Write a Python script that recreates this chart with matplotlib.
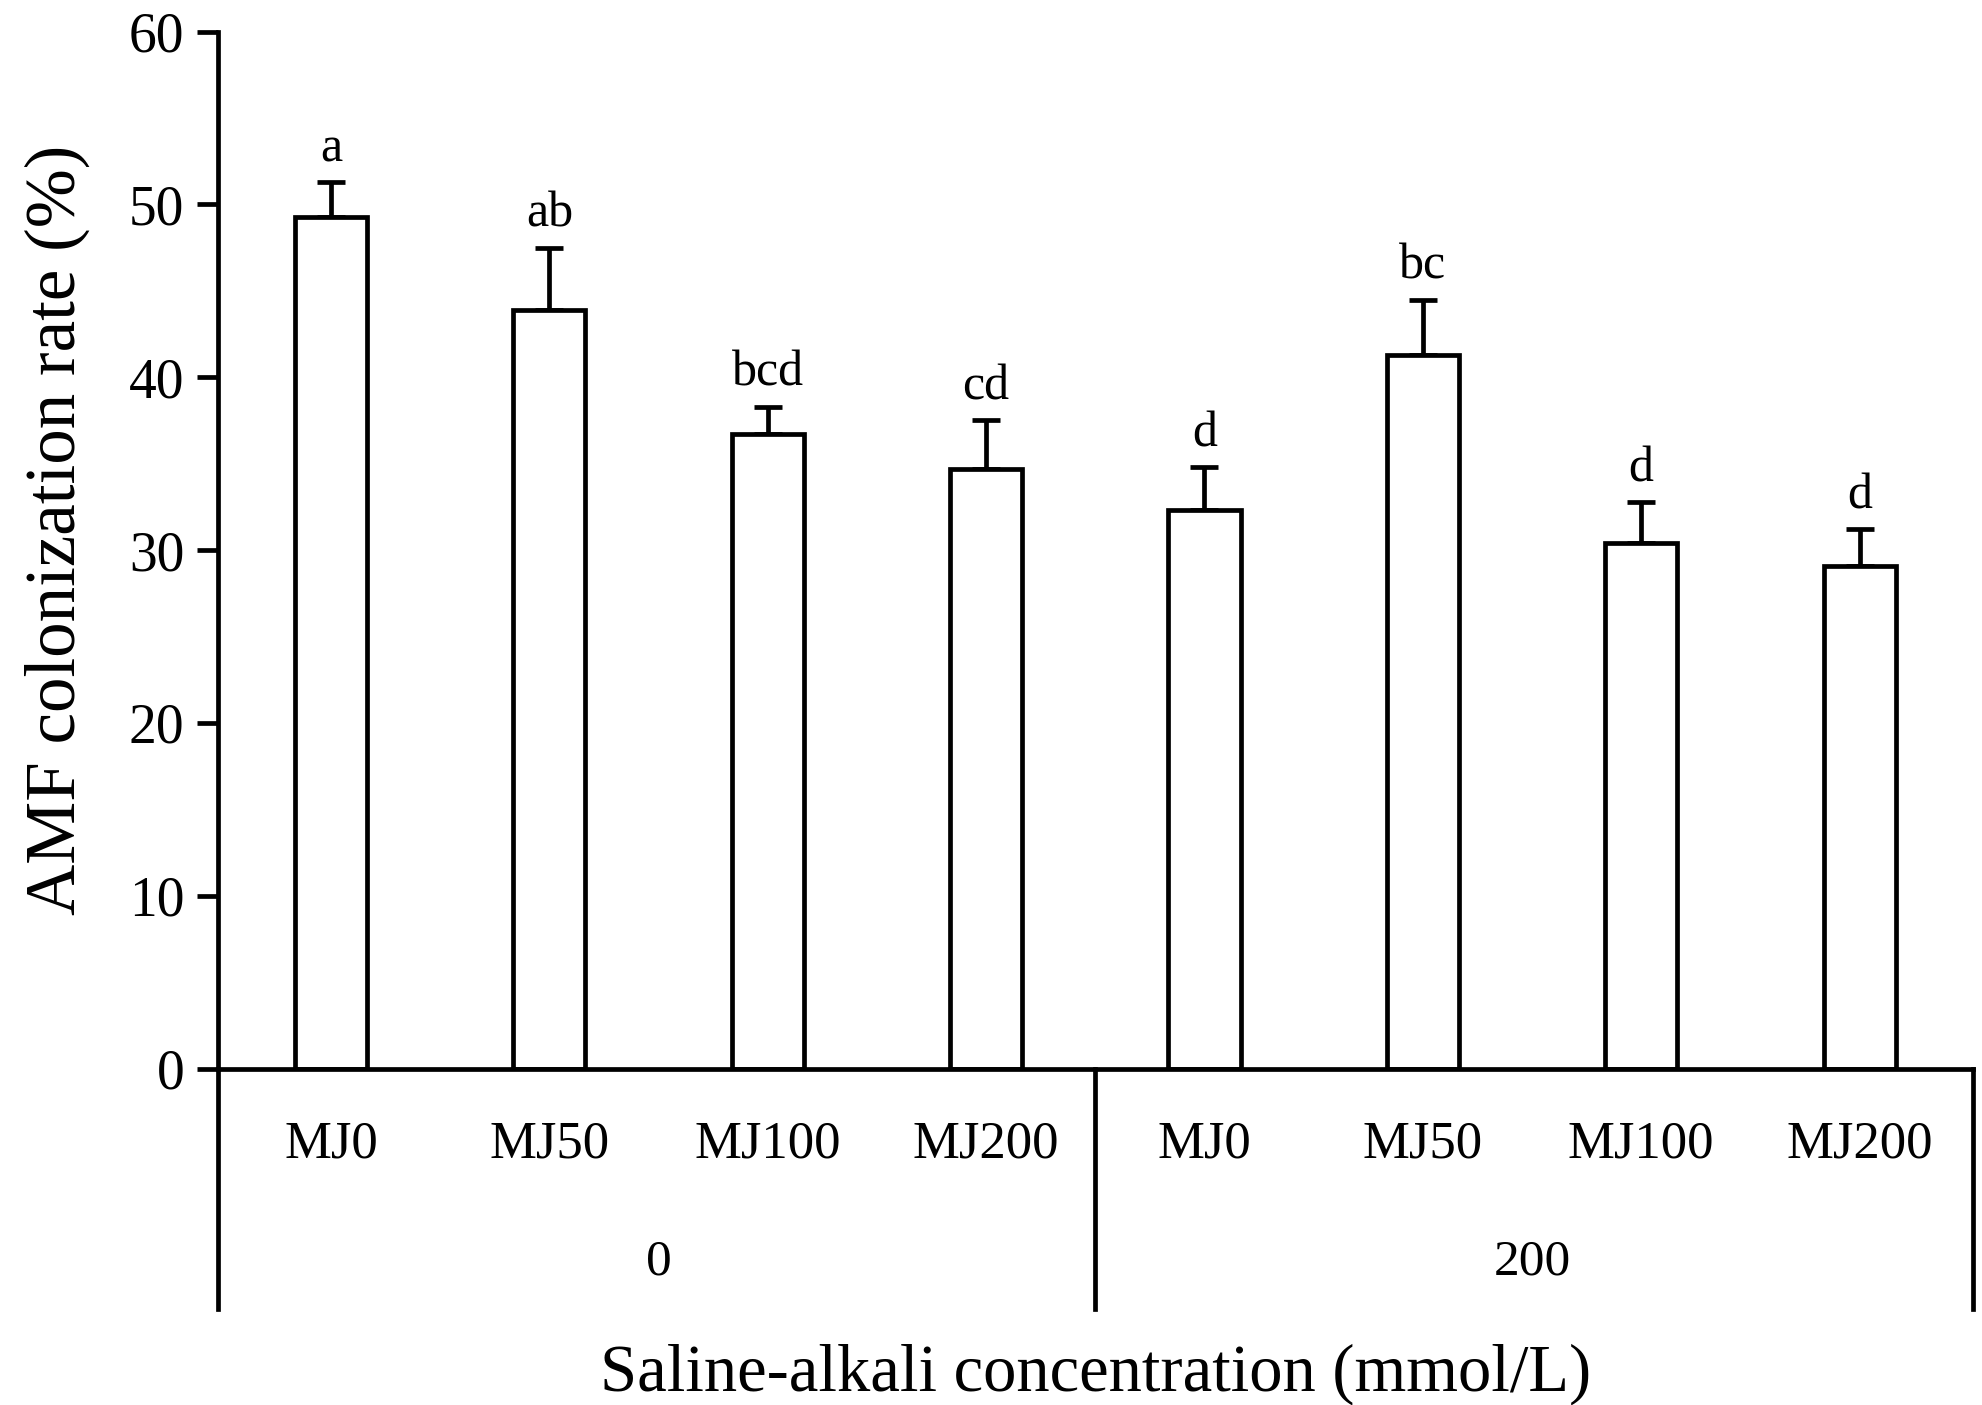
import matplotlib
matplotlib.use("Agg")
import matplotlib.pyplot as plt
import numpy as np

plt.rcParams["font.family"] = ["Liberation Serif", "DejaVu Serif"]

treatments = ["MJ0", "MJ50", "MJ100", "MJ200", "MJ0", "MJ50", "MJ100", "MJ200"]
groups = ["0", "200"]
rate = [49.3, 43.9, 36.7, 34.7, 32.3, 41.3, 30.4, 29.1]
err = [2.0, 3.6, 1.6, 2.8, 2.5, 3.2, 2.4, 2.1]
letters = ["a", "ab", "bcd", "cd", "d", "bc", "d", "d"]

fig = plt.figure(figsize=(19.83, 14.05), dpi=100)
ax = fig.add_axes([0.1097, 0.2394, 0.8853, 0.7381])

x = np.arange(len(rate))
lw = 3.4
ax.bar(x, rate, width=0.33, color="white", edgecolor="black", linewidth=lw, zorder=2)
ax.errorbar(x, rate, yerr=[[0] * len(err), err], fmt="none", ecolor="black",
            elinewidth=lw, capsize=10, capthick=lw, zorder=1)

for xi, r, e, lab in zip(x, rate, err, letters):
    ax.annotate(lab, (xi, r + e), xytext=(0, 7), textcoords="offset points",
                ha="center", va="bottom", fontsize=36)

ax.set_xlim(-0.52, 7.52)
ax.set_ylim(0, 60)
ax.set_yticks(range(0, 61, 10))
ax.set_xticks([])
ax.spines["top"].set_visible(False)
ax.spines["right"].set_visible(False)
ax.spines["left"].set_linewidth(lw)
ax.spines["bottom"].set_linewidth(lw)
ax.tick_params(axis="y", length=15, width=lw, pad=9, labelsize=40)

# category labels below the axis
for xi, t in zip(x, treatments):
    ax.text(xi, -0.073, t, transform=ax.get_xaxis_transform(),
            ha="center", va="center", fontsize=38)

# group separators and labels
for xv in [-0.52, 3.5, 7.52]:
    ax.plot([xv, xv], [0, -0.2317], transform=ax.get_xaxis_transform(),
            color="black", linewidth=lw, clip_on=False)
for xc, g in zip([1.5, 5.5], groups):
    ax.text(xc, -0.1866, g, transform=ax.get_xaxis_transform(),
            ha="center", va="center", fontsize=37)

ax.text(3.5, -0.295, "Saline-alkali concentration (mmol/L)",
        transform=ax.get_xaxis_transform(), ha="center", va="center", fontsize=48)
fig.text(0.0287, 0.623, "AMF colonization rate (%)", rotation=90,
         ha="center", va="center", fontsize=51)

fig.savefig("out.png", dpi=100)
